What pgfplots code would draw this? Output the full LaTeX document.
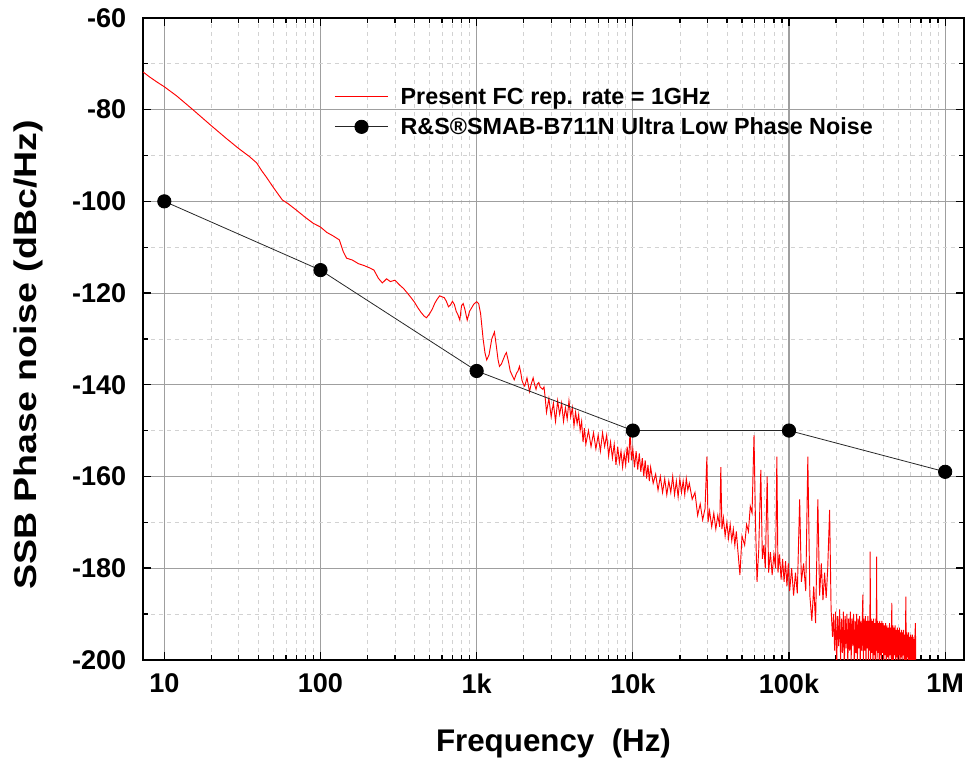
\documentclass[border=0pt]{standalone}
\usepackage{fontspec}
\setmainfont{Liberation Sans}
\usepackage{pgfplots}
\pgfplotsset{compat=1.18}

% measured phase noise of the comb (hand traced)
\pgfplotstableread{
f dB
7.33 -71.8
8 -72.8
9 -74
10 -75
12 -77
15 -79.8
20 -83.5
25 -86.3
30 -88.5
35 -90.2
39 -91.6
42 -93.3
45 -94.7
50 -97
57 -99.7
62 -100.5
70 -101.9
80 -103.5
90 -104.8
100 -105.6
110 -106.8
120 -107.5
132 -108.4
140 -111
147 -112.4
160 -112.8
175 -113.6
190 -114
206 -114.5
220 -115
235 -116.8
249 -117.8
265 -116.9
280 -117.5
300 -117.2
320 -118.2
340 -119
360 -120
380 -121
400 -122
420 -123.2
440 -124.2
460 -125
477 -125.4
500 -124.5
520 -123.5
540 -122.2
560 -121.3
580 -120.6
597 -120.8
620 -121
640 -121.8
660 -123
680 -122.6
700 -121.8
720 -122.5
740 -124
760 -124.8
780 -125.9
800 -122.8
820 -122.3
840 -123.5
870 -125.9
900 -124
930 -123.2
960 -122.4
1000 -121.9
1030 -122.3
1060 -124.5
1100 -130
1130 -133
1160 -134.6
1200 -133.5
1250 -130
1300 -128.5
1330 -131
1370 -134.5
1400 -136
1440 -135.5
1480 -134.5
1520 -133.5
1550 -133
1600 -135
1640 -137
1690 -138
1740 -138.9
1800 -137.5
1840 -137
1880 -136
1920 -137.5
1950 -139
2000 -140
2030 -140.3
2070 -139.3
2100 -138.5
2140 -140
2180 -141.5
2230 -140
2300 -138.5
2350 -140
2400 -141
2450 -139.8
2500 -139.5
2550 -140.5
2650 -141
2700 -140.5
2750 -143
2800 -146
2900 -143
3000 -147
3100 -144
3200 -148
3300 -143.5
3400 -146.5
3500 -144
3600 -148
3700 -145
3800 -147.5
3900 -143.5
4000 -147
4100 -145
4200 -149
4300 -146
4400 -148.5
4500 -146.5
4600 -150
4700 -148
4800 -152.5
4900 -149.5
5000 -153
5200 -150
5400 -153.5
5600 -150.5
5800 -154
6000 -151
6200 -154.5
6400 -150.5
6600 -153.5
6800 -151
7000 -155.5
7200 -152.5
7400 -156
7600 -153
7800 -157.5
8000 -153.5
8200 -157
8400 -154.5
8600 -158
8800 -155
9000 -157.5
9200 -153.5
9400 -157
9600 -150
9800 -156.5
10000 -154
10250 -158
10500 -154.5
10750 -158.5
11000 -155
11250 -159
11500 -156
11750 -160
12000 -156.5
12250 -160.5
12500 -157.5
12750 -161
13000 -158
13500 -161.5
14000 -159.5
14500 -163
15000 -160
15500 -163.5
16000 -160.5
16500 -164
17000 -161
17500 -163.5
18000 -160
18500 -164
19000 -161
19500 -164.5
20000 -160.5
20500 -163.5
21000 -161
21500 -164
22000 -160.5
22500 -163
23000 -161.5
24000 -165
25000 -163.5
26000 -168.5
27000 -166
28000 -169.5
29000 -167
29800 -155.7
30300 -170
31000 -167.5
32000 -171
33000 -168
34000 -171.5
35000 -168.5
36000 -171
36600 -158
37200 -171.5
38000 -169
39000 -173
40000 -170
41000 -173.5
42000 -170.5
43000 -174
44000 -171.5
45000 -175
46000 -172
47000 -176
48500 -181.5
50000 -173
52000 -175
53500 -170.5
55000 -172
56500 -166.5
58000 -168
59700 -151
61000 -170
62400 -183
64000 -176
66000 -158.6
67500 -178
69000 -175
70500 -180
72500 -160
74000 -181
76000 -176.5
78000 -181.5
80000 -177
82000 -180
83600 -155.7
85000 -181
87000 -177
89000 -182.5
91000 -178
93000 -183
95000 -178.5
97000 -184
99000 -179
101000 -185
104000 -180
107000 -186
110000 -181
113000 -185.5
117000 -165
120000 -183
124000 -179
128000 -185
132000 -155.7
136000 -186
140000 -191.5
144000 -184
148000 -192
153000 -165
157000 -186
161000 -179
165000 -187
169000 -181
173000 -186.5
177000 -180
182000 -167.3
186000 -189
190000 -195
193000 -190
196000 -198
199000 -189.5
202000 -201
205000 -190.5
208000 -197
211000 -189
214000 -200
217000 -191
220000 -198.5
223000 -189.5
226000 -202
229000 -190.5
232000 -197.5
235000 -190
238000 -201
241000 -191
244000 -198
247000 -189.5
250000 -200.5
253000 -191
256000 -197
259000 -190
262000 -202
265000 -191.5
268000 -198.5
271000 -190
274000 -201
277000 -191
280000 -197.5
283000 -190.5
286000 -202
289000 -191.5
292000 -198
295000 -190.5
297000 -185.8
299000 -200.5
302000 -191
305000 -198
308000 -190.5
311000 -202
314000 -191.5
317000 -197.5
320000 -190.5
323000 -201
326000 -191.5
329000 -198
331000 -176.4
333000 -201
336000 -191
339000 -198.5
342000 -191.5
345000 -202
348000 -191
351000 -199
354000 -192
357000 -201.5
360000 -191
362000 -198
364000 -177.5
366000 -200
369000 -191.5
372000 -198.5
375000 -192
378000 -202
381000 -191.5
384000 -199
387000 -192
390000 -201.5
393000 -191.5
396000 -198.5
400000 -192
404000 -201
408000 -192.5
412000 -199
416000 -192
420000 -202
424000 -192.5
428000 -199.5
432000 -193
436000 -201.5
440000 -192
444000 -199
448000 -193
452000 -201
455000 -187.6
458000 -200
462000 -192.5
466000 -201.5
470000 -193
474000 -199
478000 -192.5
482000 -202
486000 -193.5
490000 -199.5
494000 -193
498000 -201.5
502000 -193.5
506000 -199
510000 -193
514000 -202
518000 -194
522000 -199.5
526000 -193.5
530000 -201.5
534000 -194
538000 -199
542000 -193.5
546000 -202
550000 -194.5
555000 -200
560000 -186.2
564000 -201.5
568000 -194
572000 -199.5
576000 -194.5
580000 -202
584000 -194
588000 -200
592000 -195
596000 -201.5
600000 -194.5
604000 -200
608000 -195
612000 -202
616000 -194.5
620000 -200
624000 -195
628000 -201.5
632000 -195.5
636000 -200
640000 -195
645000 -192
648000 -201
}\combnoise

\begin{document}
\begin{tikzpicture}
\begin{axis}[
    scale only axis,
    width=616pt, height=481.5pt,
    xmode=log,
    xmin=7.3, xmax=1.32e6,
    ymin=-200, ymax=-60,
    xtick={10,100,1000,10000,100000,1000000},
    xticklabels={10,100,1k,10k,100k,1M},
    ytick={-200,-180,-160,-140,-120,-100,-80,-60},
    minor y tick num=1,
    tick align=inside,
    major tick length=6pt,
    minor tick length=3.5pt,
    tick style={black, line width=1pt},
    axis line style={line width=1.6pt},
    grid=both,
    major grid style={gray!75, line width=0.8pt, solid},
    minor grid style={gray!35, line width=0.5pt, dashed},
    /pgf/number format/assume math mode=true,
    ticklabel style={font=\fontsize{20.3}{24}\selectfont\bfseries},
    xticklabel style={yshift=-7pt},
    yticklabel style={xshift=-9pt},
    xlabel={Frequency\ \ (Hz)},
    ylabel={SSB Phase noise (dBc/Hz)},
    every axis x label/.style={at={(axis description cs:0.5,-0.13)}, anchor=center,
        font=\fontsize{23.5}{28}\selectfont\bfseries},
    every axis y label/.style={at={(axis description cs:-0.14,0.475)}, rotate=90, anchor=center,
        xscale=1.2, font=\fontsize{23.5}{28}\selectfont\bfseries},
    legend style={draw=none, fill=none, at={(0.228,0.9)}, anchor=north west,
        font=\fontsize{17.5}{21}\selectfont\bfseries, row sep=4.5pt},
    legend cell align=left,
    legend image code/.code={\draw[mark repeat=2,mark phase=2,#1]
        plot coordinates {(0pt,0pt) (20pt,0pt) (40pt,0pt)};
        \path (47pt,0pt);},
]
\addplot[red, line width=0.7pt] table[x=f, y=dB] {\combnoise};
\addlegendentry{Present FC rep. rate = 1GHz}

\addplot[black!85, line width=0.6pt, mark=*, mark size=5pt,
    mark options={black, fill=black}] coordinates {
    (10,-100) (100,-115) (1000,-137) (10000,-150) (100000,-150) (1000000,-159)};
\addlegendentry{R\&S®SMAB-B711N Ultra Low Phase Noise}
\end{axis}
\pgfresetboundingbox
\path (-107.25pt,-77.25pt) rectangle (618.25pt,495pt);
\end{tikzpicture}
\end{document}
